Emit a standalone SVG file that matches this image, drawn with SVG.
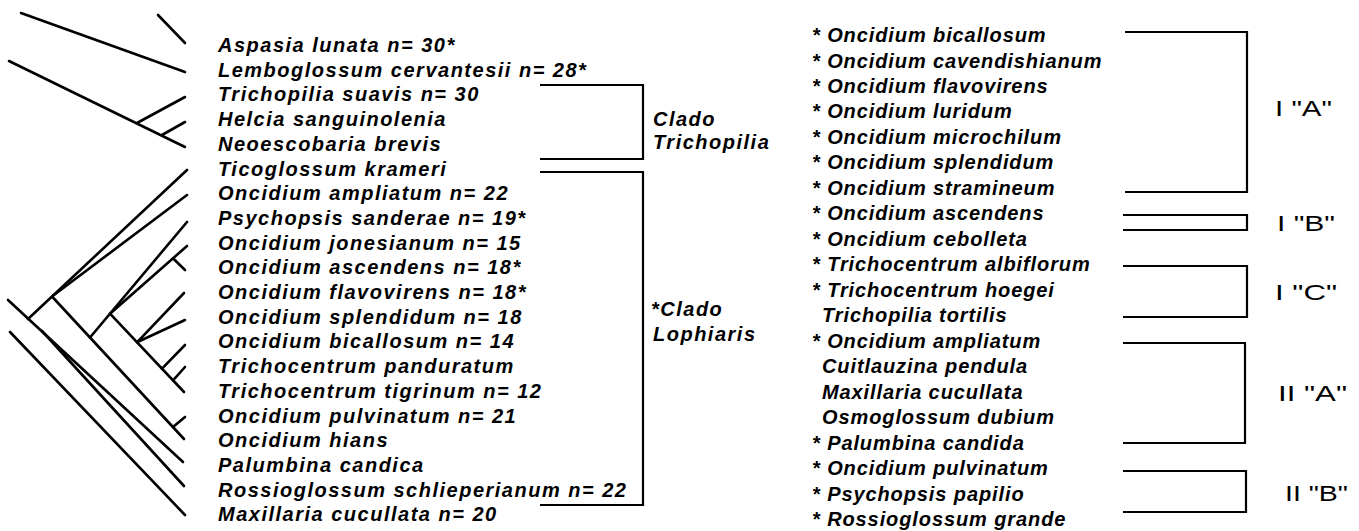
<svg xmlns="http://www.w3.org/2000/svg" width="1359" height="531" viewBox="0 0 1359 531">
<style>
.sp{font-family:"Liberation Sans",Arial,sans-serif;font-size:20px;font-weight:bold;font-style:italic;fill:#000;letter-spacing:1.5px}
.rs{font-family:"Liberation Sans",Arial,sans-serif;font-size:20px;font-weight:bold;font-style:italic;fill:#000;letter-spacing:0.9px}
.lb{font-family:"Liberation Sans",Arial,sans-serif;font-size:22px;fill:#000}
.tr{fill:none;stroke:#000;stroke-width:2.6;stroke-linecap:round;stroke-linejoin:round}
.br{fill:none;stroke:#000;stroke-width:2.2;stroke-linejoin:miter}
</style>
<rect width="1359" height="531" fill="#fff"/>
<g id="connectors">
<g id="tree" class="tr">
<path d="M158,15 L185,43"/>
<path d="M21,13 L185,72"/>
<path d="M9,61 L185,147"/>
<path d="M137,123 L185,97"/>
<path d="M162,135 L185,122"/>
<path d="M8,300 L183,462"/>
<path d="M42,331 L184,486"/>
<path d="M10,332 L185,515"/>
<path d="M187,170 L28,319"/>
<path d="M187,195 L52,296.5"/>
<path d="M52,296.5 L184,439"/>
<path d="M173,427 L185,417"/>
<path d="M187,222 L90,337.5"/>
<path d="M187,246 L110,313.7"/>
<path d="M173,258.3 L185,270"/>
<path d="M110,313.7 L184,392"/>
<path d="M184,293 L137,342.3 L185,320"/>
<path d="M162,368.7 L185,345"/>
<path d="M173,380.4 L185,367"/>
</g>
<g id="brackets" class="br">
<path d="M540,85 H643 V159 H540"/>
<path d="M540,172 H643 V505 H540"/>
<path d="M1125,32 H1247 V192 H1125"/>
<path d="M1123,215 H1247 V230 H1123"/>
<path d="M1123,266 H1247 V317 H1123"/>
<path d="M1123,343 H1245 V443 H1123"/>
<path d="M1123,471 H1246 V512 H1123"/>
</g>
</g>
<g id="left-taxa" class="sp">
<g id="t0"><text x="218" y="52">Aspasia lunata n= 30*</text></g>
<g id="t1"><text x="218" y="76.7">Lemboglossum cervantesii n= 28*</text></g>
<g id="t2"><text x="218" y="101.4">Trichopilia suavis n= 30</text></g>
<g id="t3"><text x="218" y="126.1">Helcia sanguinolenia</text></g>
<g id="t4"><text x="218" y="150.8">Neoescobaria brevis</text></g>
<g id="t5"><text x="218" y="175.5">Ticoglossum krameri</text></g>
<g id="t6"><text x="218" y="200.2">Oncidium ampliatum n= 22</text></g>
<g id="t7"><text x="218" y="224.9">Psychopsis sanderae n= 19*</text></g>
<g id="t8"><text x="218" y="249.6">Oncidium jonesianum n= 15</text></g>
<g id="t9"><text x="218" y="274.3">Oncidium ascendens n= 18*</text></g>
<g id="t10"><text x="218" y="299">Oncidium flavovirens n= 18*</text></g>
<g id="t11"><text x="218" y="323.7">Oncidium splendidum n= 18</text></g>
<g id="t12"><text x="218" y="348.4">Oncidium bicallosum n= 14</text></g>
<g id="t13"><text x="218" y="373.1">Trichocentrum panduratum</text></g>
<g id="t14"><text x="218" y="397.8">Trichocentrum tigrinum n= 12</text></g>
<g id="t15"><text x="218" y="422.5">Oncidium pulvinatum n= 21</text></g>
<g id="t16"><text x="218" y="447.2">Oncidium hians</text></g>
<g id="t17"><text x="218" y="471.9">Palumbina candica</text></g>
<g id="t18"><text x="218" y="496.6">Rossioglossum schlieperianum n= 22</text></g>
<g id="t19"><text x="218" y="521.3">Maxillaria cucullata n= 20</text></g>
</g>
<g id="clade-labels" class="sp">
<g id="clado-trichopilia"><text x="653" y="126">Clado</text><text x="653" y="149">Trichopilia</text></g>
<g id="clado-lophiaris"><text x="651" y="316">*Clado</text><text x="653" y="341">Lophiaris</text></g>
</g>
<g id="right-taxa" class="rs">
<g id="r0"><text x="812" y="42">* Oncidium bicallosum</text></g>
<g id="r1"><text x="812" y="67.5">* Oncidium cavendishianum</text></g>
<g id="r2"><text x="812" y="92.9">* Oncidium flavovirens</text></g>
<g id="r3"><text x="812" y="118.4">* Oncidium luridum</text></g>
<g id="r4"><text x="812" y="143.9">* Oncidium microchilum</text></g>
<g id="r5"><text x="812" y="169.4">* Oncidium splendidum</text></g>
<g id="r6"><text x="812" y="194.8">* Oncidium stramineum</text></g>
<g id="r7"><text x="812" y="220.3">* Oncidium ascendens</text></g>
<g id="r8"><text x="812" y="245.8">* Oncidium cebolleta</text></g>
<g id="r9"><text x="812" y="271.2">* Trichocentrum albiflorum</text></g>
<g id="r10"><text x="812" y="296.7">* Trichocentrum hoegei</text></g>
<g id="r11"><text x="822" y="322.2">Trichopilia tortilis</text></g>
<g id="r12"><text x="812" y="347.6">* Oncidium ampliatum</text></g>
<g id="r13"><text x="822" y="373.1">Cuitlauzina pendula</text></g>
<g id="r14"><text x="822" y="398.6">Maxillaria cucullata</text></g>
<g id="r15"><text x="822" y="424">Osmoglossum dubium</text></g>
<g id="r16"><text x="812" y="449.5">* Palumbina candida</text></g>
<g id="r17"><text x="812" y="475">* Oncidium pulvinatum</text></g>
<g id="r18"><text x="812" y="500.5">* Psychopsis papilio</text></g>
<g id="r19"><text x="812" y="525.9">* Rossioglossum grande</text></g>
</g>
<g id="group-labels" class="lb">
<g id="IA"><text x="1275" y="116" textLength="57" lengthAdjust="spacingAndGlyphs">I "A"</text></g>
<g id="IB"><text x="1277" y="231" textLength="58" lengthAdjust="spacingAndGlyphs">I "B"</text></g>
<g id="IC"><text x="1275" y="300" textLength="62" lengthAdjust="spacingAndGlyphs">I "C"</text></g>
<g id="IIA"><text x="1278" y="401" textLength="69" lengthAdjust="spacingAndGlyphs">II "A"</text></g>
<g id="IIB"><text x="1285" y="501" textLength="63" lengthAdjust="spacingAndGlyphs">II "B"</text></g>
</g>
</svg>
